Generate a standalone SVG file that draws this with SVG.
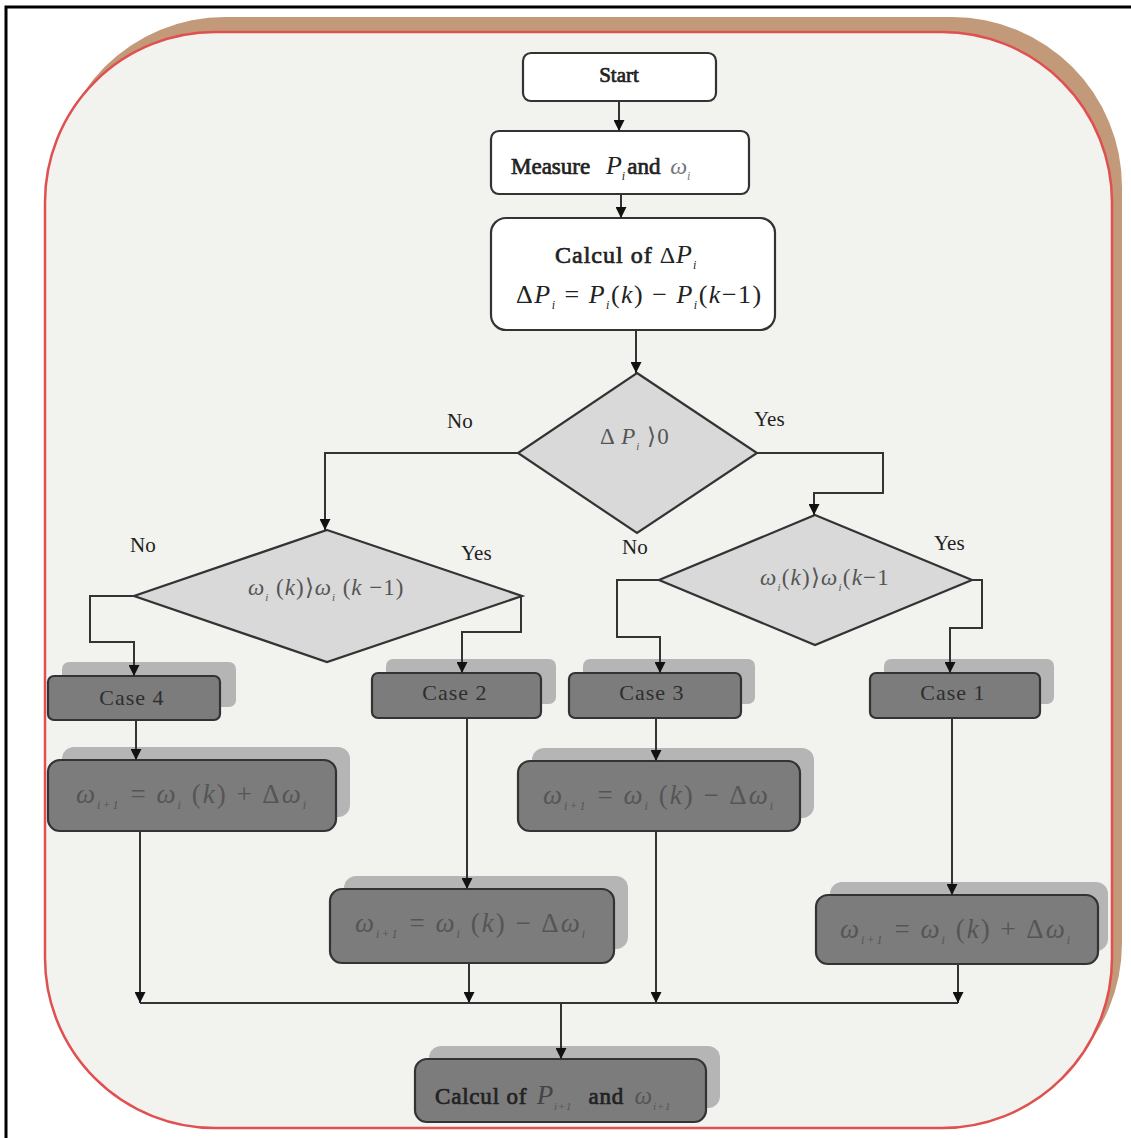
<svg xmlns="http://www.w3.org/2000/svg" width="1131" height="1138" viewBox="0 0 1131 1138">
<defs>
<style>
.t{font-family:"Liberation Serif","Times New Roman",serif;fill:#222;}
.b{stroke:#222;stroke-width:0.7;}
.m{font-family:"Liberation Serif","Times New Roman",serif;font-style:italic;stroke:none;}
.g{fill:#555;}
.g2{fill:#2e2e2e;}
.white{fill:#ffffff;stroke:#333;stroke-width:2.2;}
.dia{fill:#d9d9d9;stroke:#333;stroke-width:2.2;}
.dark{fill:#7c7c7c;stroke:#333;stroke-width:2.2;}
.shd{fill:#b5b5b5;}
.ln{fill:none;stroke:#333;stroke-width:2;}
.lbl{font-family:"Liberation Serif","Times New Roman",serif;font-size:21px;fill:#222;}
.fm{font-size:27px;letter-spacing:2px;}
.cs{font-size:22px;letter-spacing:1px;}
</style>
<marker id="ah" viewBox="0 0 10 10" refX="10" refY="5" markerWidth="5.5" markerHeight="5.5" orient="auto" markerUnits="strokeWidth">
<path d="M0,0 L10,5 L0,10 z" fill="#111"/>
</marker>
</defs>
<rect x="0" y="0" width="1131" height="1138" fill="#ffffff"/>
<path d="M6,1138 L6,7 L1131,7" fill="none" stroke="#000" stroke-width="3"/>
<g id="panel">
<rect x="55" y="17" width="1067" height="1096" rx="170" ry="170" fill="#c29a7a"/>
<rect x="45" y="32" width="1067" height="1096" rx="170" ry="170" fill="#f2f2ef" stroke="#e05050" stroke-width="2.5"/>
</g>
<g id="start">
<rect class="white" x="523" y="53" width="193" height="48" rx="8"/>
<text class="t b" x="619" y="82" font-size="21" text-anchor="middle">Start</text>
</g>
<g id="measure">
<rect class="white" x="491" y="131" width="258" height="63" rx="8"/>
<text class="t" x="511" y="174" font-size="23"><tspan class="b">Measure </tspan><tspan class="m" dx="10" font-size="26">P</tspan><tspan class="m" font-size="12" dy="6">i</tspan><tspan class="b" dy="-6" dx="2">and </tspan><tspan class="m" dx="4" fill="#777" font-size="24">ω</tspan><tspan class="m" fill="#777" font-size="12" dy="6">i</tspan></text>
</g>
<g id="calcul-dp">
<rect class="white" x="491" y="218" width="284" height="112" rx="15"/>
<text class="t" x="555" y="263" font-size="24" letter-spacing="1"><tspan class="b">Calcul  of </tspan><tspan>Δ</tspan><tspan class="m" font-size="26">P</tspan><tspan class="m" font-size="12" dy="6">i</tspan></text>
<text class="t" x="516" y="303" font-size="26" letter-spacing="1.5">Δ<tspan class="m">P</tspan><tspan class="m" font-size="12" dy="6">i</tspan><tspan dy="-6"> = </tspan><tspan class="m">P</tspan><tspan class="m" font-size="12" dy="6">i</tspan><tspan dy="-6">(</tspan><tspan class="m">k</tspan><tspan>) − </tspan><tspan class="m">P</tspan><tspan class="m" font-size="12" dy="6">i</tspan><tspan dy="-6">(</tspan><tspan class="m">k</tspan><tspan>−1)</tspan></text>
</g>
<g id="decision-dp">
<polygon class="dia" points="637,373 757,453 637,533 518,453"/>
<text class="t g" x="600" y="444" font-size="23" letter-spacing="1">Δ <tspan class="m">P</tspan><tspan class="m" font-size="11" dy="6">i</tspan><tspan dy="-6"> ⟩0</tspan></text>
</g>
<g id="decision-w-left">
<polygon class="dia" points="327,530 522,596 327,662 134,596"/>
<text class="t g" x="248" y="595" font-size="23" letter-spacing="1"><tspan class="m">ω</tspan><tspan class="m" font-size="11" dy="6">i</tspan><tspan dy="-6"> (</tspan><tspan class="m">k</tspan><tspan>)⟩</tspan><tspan class="m">ω</tspan><tspan class="m" font-size="11" dy="6">i</tspan><tspan dy="-6"> (</tspan><tspan class="m">k</tspan><tspan> −1)</tspan></text>
</g>
<g id="decision-w-right">
<polygon class="dia" points="815,515 972,580 815,645 659,580"/>
<text class="t g" x="760" y="585" font-size="23" letter-spacing="1.2"><tspan class="m">ω</tspan><tspan class="m" font-size="11" dy="6">i</tspan><tspan dy="-6">(</tspan><tspan class="m">k</tspan><tspan>)⟩</tspan><tspan class="m">ω</tspan><tspan class="m" font-size="11" dy="6">i</tspan><tspan dy="-6">(</tspan><tspan class="m">k</tspan><tspan>−1</tspan></text>
</g>
<g id="case4">
<rect class="shd" x="62" y="662" width="174" height="45" rx="7"/>
<rect class="dark" x="48" y="676" width="172" height="44" rx="6"/>
<text class="t g2 cs" x="132" y="705" text-anchor="middle">Case 4</text>
</g>
<g id="case2">
<rect class="shd" x="386" y="659" width="170" height="45" rx="7"/>
<rect class="dark" x="372" y="673" width="169" height="45" rx="6"/>
<text class="t g2 cs" x="455" y="700" text-anchor="middle">Case 2</text>
</g>
<g id="case3">
<rect class="shd" x="583" y="659" width="172" height="45" rx="7"/>
<rect class="dark" x="569" y="673" width="172" height="45" rx="6"/>
<text class="t g2 cs" x="652" y="700" text-anchor="middle">Case 3</text>
</g>
<g id="case1">
<rect class="shd" x="884" y="659" width="170" height="45" rx="7"/>
<rect class="dark" x="870" y="673" width="170" height="45" rx="6"/>
<text class="t g2 cs" x="953" y="700" text-anchor="middle">Case 1</text>
</g>
<g id="update-case4">
<rect class="shd" x="62" y="747" width="288" height="70" rx="12"/>
<rect class="dark" x="48" y="760" width="288" height="71" rx="12"/>
<text class="t g fm" x="76" y="803"><tspan class="m">ω</tspan><tspan class="m" font-size="12" dy="6">i+1</tspan><tspan dy="-6" dx="10">= </tspan><tspan class="m">ω</tspan><tspan class="m" font-size="12" dy="6">i</tspan><tspan dy="-6"> (</tspan><tspan class="m">k</tspan><tspan>) + Δ</tspan><tspan class="m">ω</tspan><tspan class="m" font-size="12" dy="6">i</tspan></text>
</g>
<g id="update-case3">
<rect class="shd" x="532" y="748" width="282" height="70" rx="12"/>
<rect class="dark" x="518" y="761" width="282" height="70" rx="12"/>
<text class="t g fm" x="543" y="804"><tspan class="m">ω</tspan><tspan class="m" font-size="12" dy="6">i+1</tspan><tspan dy="-6" dx="10">= </tspan><tspan class="m">ω</tspan><tspan class="m" font-size="12" dy="6">i</tspan><tspan dy="-6"> (</tspan><tspan class="m">k</tspan><tspan>) − Δ</tspan><tspan class="m">ω</tspan><tspan class="m" font-size="12" dy="6">i</tspan></text>
</g>
<g id="update-case2">
<rect class="shd" x="344" y="876" width="284" height="73" rx="12"/>
<rect class="dark" x="330" y="889" width="284" height="74" rx="12"/>
<text class="t g fm" x="355" y="932"><tspan class="m">ω</tspan><tspan class="m" font-size="12" dy="6">i+1</tspan><tspan dy="-6" dx="10">= </tspan><tspan class="m">ω</tspan><tspan class="m" font-size="12" dy="6">i</tspan><tspan dy="-6"> (</tspan><tspan class="m">k</tspan><tspan>) − Δ</tspan><tspan class="m">ω</tspan><tspan class="m" font-size="12" dy="6">i</tspan></text>
</g>
<g id="update-case1">
<rect class="shd" x="830" y="882" width="278" height="69" rx="12"/>
<rect class="dark" x="816" y="895" width="282" height="69" rx="12"/>
<text class="t g fm" x="840" y="938"><tspan class="m">ω</tspan><tspan class="m" font-size="12" dy="6">i+1</tspan><tspan dy="-6" dx="10">= </tspan><tspan class="m">ω</tspan><tspan class="m" font-size="12" dy="6">i</tspan><tspan dy="-6"> (</tspan><tspan class="m">k</tspan><tspan>) + Δ</tspan><tspan class="m">ω</tspan><tspan class="m" font-size="12" dy="6">i</tspan></text>
</g>
<g id="final">
<rect class="shd" x="429" y="1046" width="291" height="62" rx="12"/>
<rect class="dark" x="415" y="1059" width="291" height="63" rx="12"/>
<text class="t" x="435" y="1104" font-size="23" letter-spacing="0.8" fill="#2a2a2a"><tspan class="b">Calcul of </tspan><tspan class="m" dx="3" fill="#444" font-size="27">P</tspan><tspan class="m" fill="#555" font-size="11" dy="6">i+1</tspan><tspan class="b" dy="-6" dx="16">and </tspan><tspan class="m" dx="4" fill="#555" font-size="25">ω</tspan><tspan class="m" fill="#555" font-size="11" dy="6">i+1</tspan></text>
</g>
<g id="connectors">
<path class="ln" d="M619,101 L619,131" marker-end="url(#ah)"/>
<path class="ln" d="M621,194 L621,218" marker-end="url(#ah)"/>
<path class="ln" d="M636,330 L636,373" marker-end="url(#ah)"/>
<path class="ln" d="M518,453 L325,453 L325,530" marker-end="url(#ah)"/>
<path class="ln" d="M757,453 L883,453 L883,493 L814,493 L814,515" marker-end="url(#ah)"/>
<path class="ln" d="M134,596 L90,596 L90,642 L134,642 L134,676" marker-end="url(#ah)"/>
<path class="ln" d="M521,596 L521,632 L462,632 L462,673" marker-end="url(#ah)"/>
<path class="ln" d="M659,580 L617,580 L617,637 L660,637 L660,673" marker-end="url(#ah)"/>
<path class="ln" d="M972,580 L982,580 L982,628 L950,628 L950,673" marker-end="url(#ah)"/>
<path class="ln" d="M136,720 L136,760" marker-end="url(#ah)"/>
<path class="ln" d="M467,718 L467,889" marker-end="url(#ah)"/>
<path class="ln" d="M656,718 L656,761" marker-end="url(#ah)"/>
<path class="ln" d="M952,718 L952,895" marker-end="url(#ah)"/>
<path class="ln" d="M140,831 L140,1003" marker-end="url(#ah)"/>
<path class="ln" d="M469,963 L469,1003" marker-end="url(#ah)"/>
<path class="ln" d="M656,831 L656,1003" marker-end="url(#ah)"/>
<path class="ln" d="M958,964 L958,1003" marker-end="url(#ah)"/>
<path class="ln" d="M140,1003 L958,1003"/>
<path class="ln" d="M561,1003 L561,1059" marker-end="url(#ah)"/>
<text class="lbl" x="447" y="428">No</text>
<text class="lbl" x="754" y="426">Yes</text>
<text class="lbl" x="130" y="552">No</text>
<text class="lbl" x="461" y="560">Yes</text>
<text class="lbl" x="622" y="554">No</text>
<text class="lbl" x="934" y="550">Yes</text>
</g>
</svg>
